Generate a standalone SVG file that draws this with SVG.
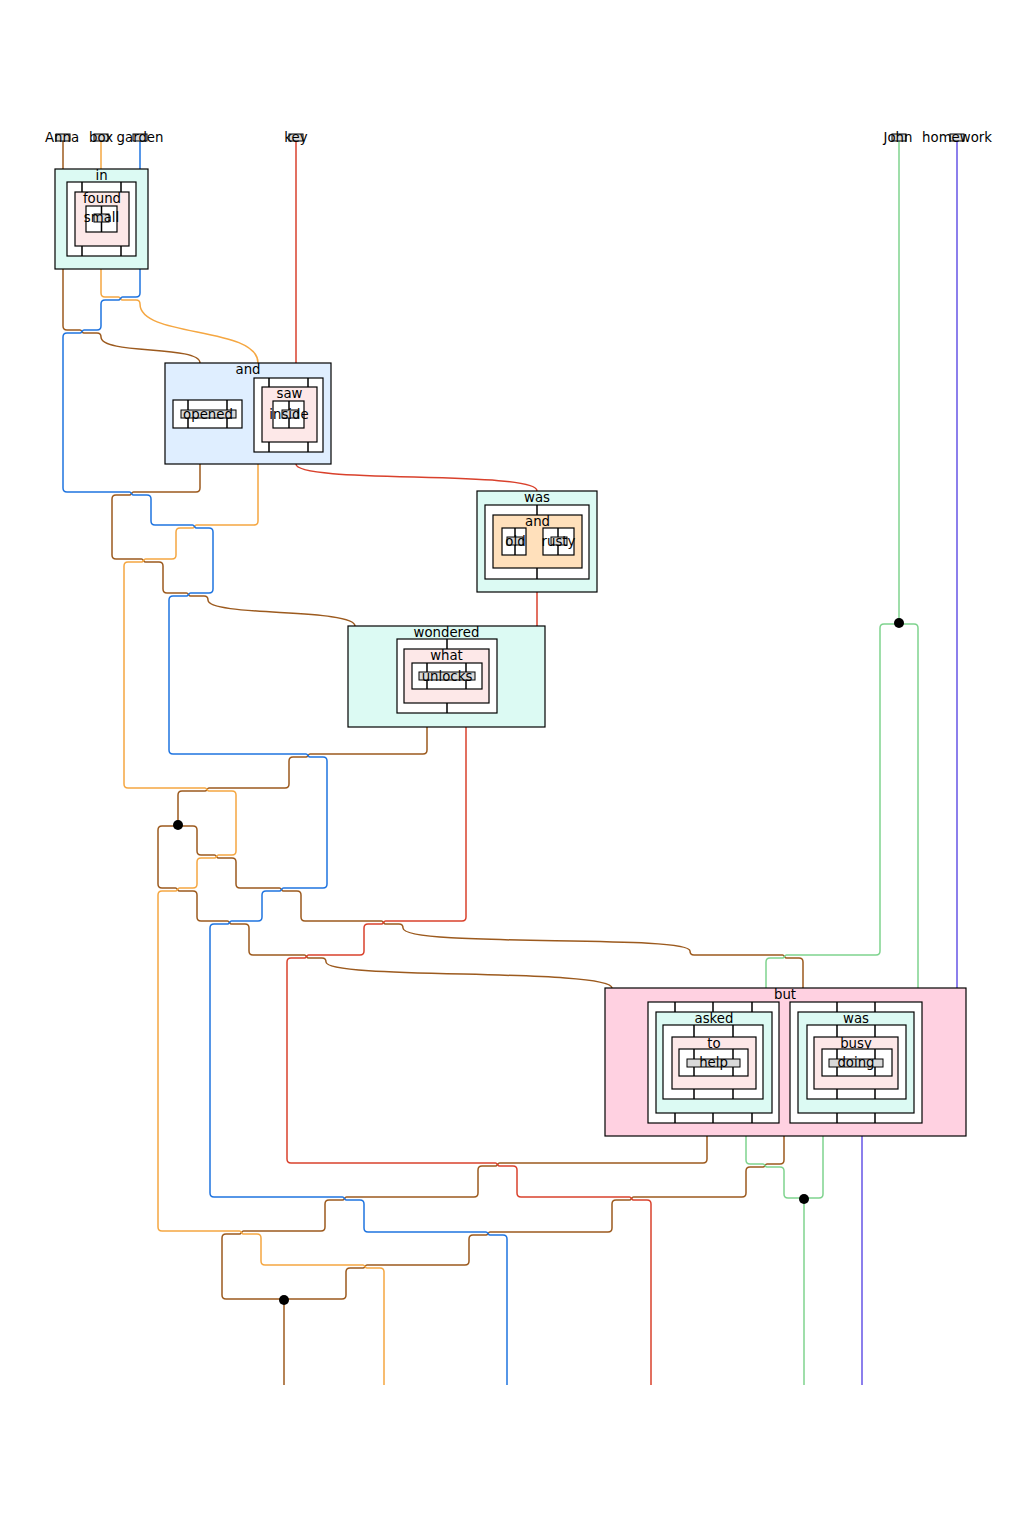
<svg xmlns="http://www.w3.org/2000/svg" width="1019" height="1520" viewBox="0 0 1019 1520">
<style>
.w{fill:none;stroke-width:1.5}
.br{stroke:#9c5a1e}.or{stroke:#f5a742}.bl{stroke:#1f74e0}.rd{stroke:#d9412c}.gr{stroke:#7fd38e}.pu{stroke:#6655e6}
.box{stroke:#000;stroke-width:1.2}
.cy{fill:#dcfaf3}.pk{fill:#fde8e8}.lb{fill:#dfeeff}.pe{fill:#ffe0bb}.bt{fill:#ffd1e1}.wh{fill:#fff}
.st{fill:#d9d9d9;stroke:#000;stroke-width:1}
.ln{stroke:#000;stroke-width:1.5;fill:none}
.dot{fill:#000}
text{font-family:"DejaVu Sans",sans-serif;font-size:13.3px;text-anchor:middle;fill:#000}
</style>
<rect width="1019" height="1520" fill="#fff"/>
<g id="connectors">
<path class="w br" d="M63,141 V169"/>
<path class="w br" d="M63,269 V326 Q63,330 67,330 H80 C82,330 82,333 84,333 H97 Q101,333 101,337 C101,355 200,345 200,363"/>
<path class="w br" d="M200,464 V488 Q200,492 196,492 H133.5 C131.5,492 131.5,495 129.5,495 H116 Q112,495 112,499 V555 Q112,559 116,559 H141.5 C143.5,559 143.5,562 145.5,562 H159 Q163,562 163,566 V589 Q163,593 167,593 H186.5 C188.5,593 188.5,596 190.5,596 H204 Q208,596 208,600 C208,617 355,608 355,626"/>
<path class="w br" d="M427,727 V750 Q427,754 423,754 H310 C308,754 308,757 306,757 H293 Q289,757 289,761 V784 Q289,788 285,788 H209 C207,788 207,791 205,791 H182 Q178,791 178,795 V825"/>
<path class="w br" d="M178,826 H162 Q158,826 158,830 V884 Q158,888 162,888 H175.5 C177.5,888 177.5,891 179.5,891 H193 Q197,891 197,895 V917 Q197,921 201,921 H227.5 C229.5,921 229.5,924 231.5,924 H245 Q249,924 249,928 V951 Q249,955 253,955 H304.5 C306.5,955 306.5,958 308.5,958 H322 Q326,958 326,962 C326,980 612,968 612,988"/>
<path class="w br" d="M178,826 H193 Q197,826 197,830 V851 Q197,855 201,855 H214.5 C216.5,855 216.5,858 218.5,858 H232 Q236,858 236,862 V884 Q236,888 240,888 H279.5 C281.5,888 281.5,891 283.5,891 H297 Q301,891 301,895 V917 Q301,921 305,921 H381.5 C383.5,921 383.5,924 385.5,924 H399 Q403,924 403,928 C403,948 690,934 690,951 Q690,955 694,955 H782.5 C784.5,955 784.5,958 786.5,958 H799 Q803,958 803,962 V988"/>
<path class="w br" d="M707,1136 V1159 Q707,1163 703,1163 H499.5 C497.5,1163 497.5,1166 495.5,1166 H482 Q478,1166 478,1170 V1193 Q478,1197 474,1197 H346.5 C344.5,1197 344.5,1200 342.5,1200 H329 Q325,1200 325,1204 V1227 Q325,1231 321,1231 H243.5 C241.5,1231 241.5,1234 239.5,1234 H226 Q222,1234 222,1238 V1295 Q222,1299 226,1299 H284"/>
<path class="w br" d="M784,1136 V1160 Q784,1164 780,1164 H767 C765,1164 765,1167 763,1167 H750 Q746,1167 746,1171 V1193 Q746,1197 742,1197 H633.5 C631.5,1197 631.5,1200 629.5,1200 H616 Q612,1200 612,1204 V1228 Q612,1232 608,1232 H490 C488,1232 488,1235 486,1235 H473 Q469,1235 469,1239 V1261 Q469,1265 465,1265 H367 C365,1265 365,1268 363,1268 H350 Q346,1268 346,1272 V1295 Q346,1299 342,1299 H284"/>
<path class="w br" d="M284,1299 V1385"/>
<path class="w or" d="M101,141 V169"/>
<path class="w or" d="M101,269 V293 Q101,297 105,297 H118.5 C120.5,297 120.5,300 122.5,300 H136 Q140,300 140,304 C140,338 258,326 258,363"/>
<path class="w or" d="M258,464 V521 Q258,525 254,525 H196.5 C194.5,525 194.5,528 192.5,528 H180 Q176,528 176,532 V555 Q176,559 172,559 H145.5 C143.5,559 143.5,562 141.5,562 H128 Q124,562 124,566 V784 Q124,788 128,788 H205 C207,788 207,791 209,791 H232 Q236,791 236,795 V851 Q236,855 232,855 H218.5 C216.5,855 216.5,858 214.5,858 H201 Q197,858 197,862 V884 Q197,888 193,888 H179.5 C177.5,888 177.5,891 175.5,891 H162 Q158,891 158,895 V1227 Q158,1231 162,1231 H239.5 C241.5,1231 241.5,1234 243.5,1234 H257 Q261,1234 261,1238 V1261 Q261,1265 265,1265 H363 C365,1265 365,1268 367,1268 H380 Q384,1268 384,1272 V1385"/>
<path class="w bl" d="M140,141 V169"/>
<path class="w bl" d="M140,269 V293 Q140,297 136,297 H122.5 C120.5,297 120.5,300 118.5,300 H105 Q101,300 101,304 V326 Q101,330 97,330 H84 C82,330 82,333 80,333 H67 Q63,333 63,337 V488 Q63,492 67,492 H129.5 C131.5,492 131.5,495 133.5,495 H147 Q151,495 151,499 V521 Q151,525 155,525 H192.5 C194.5,525 194.5,528 196.5,528 H209 Q213,528 213,532 V589 Q213,593 209,593 H190.5 C188.5,593 188.5,596 186.5,596 H173 Q169,596 169,600 V750 Q169,754 173,754 H306 C308,754 308,757 310,757 H323 Q327,757 327,761 V884 Q327,888 323,888 H283.5 C281.5,888 281.5,891 279.5,891 H266 Q262,891 262,895 V917 Q262,921 258,921 H231.5 C229.5,921 229.5,924 227.5,924 H214 Q210,924 210,928 V1193 Q210,1197 214,1197 H342.5 C344.5,1197 344.5,1200 346.5,1200 H360 Q364,1200 364,1204 V1228 Q364,1232 368,1232 H486 C488,1232 488,1235 490,1235 H503 Q507,1235 507,1239 V1385"/>
<path class="w rd" d="M296,141 V363"/>
<path class="w rd" d="M296,464 C296,484 537,470 537,491"/>
<path class="w rd" d="M537,592 V626"/>
<path class="w rd" d="M466,727 V917 Q466,921 462,921 H385.5 C383.5,921 383.5,924 381.5,924 H368 Q364,924 364,928 V951 Q364,955 360,955 H308.5 C306.5,955 306.5,958 304.5,958 H291 Q287,958 287,962 V1159 Q287,1163 291,1163 H495.5 C497.5,1163 497.5,1166 499.5,1166 H513 Q517,1166 517,1170 V1193 Q517,1197 521,1197 H629.5 C631.5,1197 631.5,1200 633.5,1200 H647 Q651,1200 651,1204 V1385"/>
<path class="w gr" d="M899,141 V624"/>
<path class="w gr" d="M899,624 H884 Q880,624 880,628 V951 Q880,955 876,955 H786.5 C784.5,955 784.5,958 782.5,958 H770 Q766,958 766,962 V988"/>
<path class="w gr" d="M899,624 H914 Q918,624 918,628 V988"/>
<path class="w gr" d="M746,1136 V1160 Q746,1164 750,1164 H763 C765,1164 765,1167 767,1167 H780 Q784,1167 784,1171 V1194 Q784,1198 788,1198 H804"/>
<path class="w gr" d="M823,1136 V1194 Q823,1198 819,1198 H804"/>
<path class="w gr" d="M804,1198 V1385"/>
<path class="w pu" d="M957,141 V988"/>
<path class="w pu" d="M862,1136 V1385"/>
<circle class="dot" cx="899" cy="623" r="5"/>
<circle class="dot" cx="178" cy="825" r="5"/>
<circle class="dot" cx="804" cy="1199" r="5"/>
<circle class="dot" cx="284" cy="1300" r="5"/>
</g>
<g id="input-Anna"><rect class="st" x="56" y="134" width="14" height="7"/><text x="62" y="142">Anna</text></g>
<g id="input-box"><rect class="st" x="94" y="134" width="14" height="7"/><text x="101" y="142">box</text></g>
<g id="input-garden"><rect class="st" x="133" y="134" width="14" height="7"/><text x="140" y="142">garden</text></g>
<g id="input-key"><rect class="st" x="289" y="134" width="14" height="7"/><text x="296" y="142">key</text></g>
<g id="input-John"><rect class="st" x="892" y="134" width="14" height="7"/><text x="898" y="142">John</text></g>
<g id="input-homework"><rect class="st" x="950" y="134" width="14" height="7"/><text x="957" y="142">homework</text></g>
<g id="node-in">
<rect class="box cy" x="55" y="169" width="93" height="100"/>
<text x="101.5" y="179.5">in</text>
<rect class="box wh" x="67" y="182" width="69" height="74"/>
<path class="ln" d="M82,182V192M121,182V192M82,246V256M121,246V256"/>
<rect class="box pk" x="75" y="192" width="54" height="54"/>
<text x="102" y="203">found</text>
<rect class="box wh" x="86" y="206" width="31" height="26"/>
<path class="ln" d="M101.5,206V232"/>
<rect class="st" x="94" y="214" width="15" height="8"/>
<text x="101.5" y="222">small</text>
</g>
<g id="node-and">
<rect class="box lb" x="165" y="363" width="166" height="101"/>
<text x="248" y="374">and</text>
<rect class="box wh" x="173" y="400" width="69" height="28"/>
<path class="ln" d="M188,400V428M227,400V428"/>
<rect class="st" x="181" y="410" width="55" height="8"/>
<text x="208" y="418.5">opened</text>
<rect class="box wh" x="254" y="378" width="69" height="74"/>
<path class="ln" d="M269,378V387M308,378V387M269,442V452M308,442V452"/>
<rect class="box pk" x="262" y="387" width="55" height="55"/>
<text x="289.5" y="398">saw</text>
<rect class="box wh" x="273" y="401" width="31" height="27"/>
<path class="ln" d="M289,401V428"/>
<rect class="st" x="282" y="410" width="16" height="8"/>
<text x="289" y="418.5">inside</text>
</g>
<g id="node-was">
<rect class="box cy" x="477" y="491" width="120" height="101"/>
<text x="537" y="502">was</text>
<rect class="box wh" x="485" y="505" width="104" height="74"/>
<path class="ln" d="M537,505V515M537,568V579"/>
<rect class="box pe" x="493" y="515" width="89" height="53"/>
<text x="537.5" y="526">and</text>
<rect class="box wh" x="502" y="528" width="24" height="27"/>
<path class="ln" d="M515,528V555"/>
<rect class="st" x="507" y="537" width="16" height="8"/>
<text x="515.5" y="545.5">old</text>
<rect class="box wh" x="543" y="528" width="31" height="27"/>
<path class="ln" d="M558,528V555"/>
<rect class="st" x="551" y="537" width="16" height="8"/>
<text x="558.5" y="545.5">rusty</text>
</g>
<g id="node-wondered">
<rect class="box cy" x="348" y="626" width="197" height="101"/>
<text x="446.5" y="637">wondered</text>
<rect class="box wh" x="397" y="639" width="100" height="74"/>
<path class="ln" d="M447,639V649M447,703V713"/>
<rect class="box pk" x="404" y="649" width="85" height="54"/>
<text x="446.5" y="660">what</text>
<rect class="box wh" x="412" y="663" width="70" height="26"/>
<path class="ln" d="M427,663V689M466,663V689"/>
<rect class="st" x="419" y="672" width="56" height="8"/>
<text x="447" y="680.5">unlocks</text>
</g>
<g id="node-but">
<rect class="box bt" x="605" y="988" width="361" height="148"/>
<text x="785" y="999">but</text>
<rect class="box wh" x="648" y="1002" width="131" height="121"/>
<path class="ln" d="M675,1002V1012M713,1002V1012M752,1002V1012M675,1113V1123M713,1113V1123M752,1113V1123"/>
<rect class="box cy" x="656" y="1012" width="116" height="101"/>
<text x="714" y="1023">asked</text>
<rect class="box wh" x="663" y="1025" width="100" height="74"/>
<path class="ln" d="M694,1025V1037M733,1025V1037M694,1089V1099M733,1089V1099"/>
<rect class="box pk" x="672" y="1037" width="84" height="52"/>
<text x="714" y="1048">to</text>
<rect class="box wh" x="679" y="1049" width="69" height="27"/>
<path class="ln" d="M694,1049V1076M733,1049V1076"/>
<rect class="st" x="687" y="1059" width="53" height="8"/>
<text x="713.5" y="1067">help</text>
<rect class="box wh" x="790" y="1002" width="132" height="121"/>
<path class="ln" d="M837,1002V1012M875,1002V1012M837,1113V1123M875,1113V1123"/>
<rect class="box cy" x="798" y="1012" width="116" height="101"/>
<text x="856" y="1023">was</text>
<rect class="box wh" x="807" y="1025" width="99" height="74"/>
<path class="ln" d="M837,1025V1037M875,1025V1037M837,1089V1099M875,1089V1099"/>
<rect class="box pk" x="814" y="1037" width="84" height="52"/>
<text x="856" y="1048">busy</text>
<rect class="box wh" x="822" y="1049" width="70" height="27"/>
<path class="ln" d="M837,1049V1076M875,1049V1076"/>
<rect class="st" x="829" y="1059" width="54" height="8"/>
<text x="856" y="1067">doing</text>
</g>
</svg>
